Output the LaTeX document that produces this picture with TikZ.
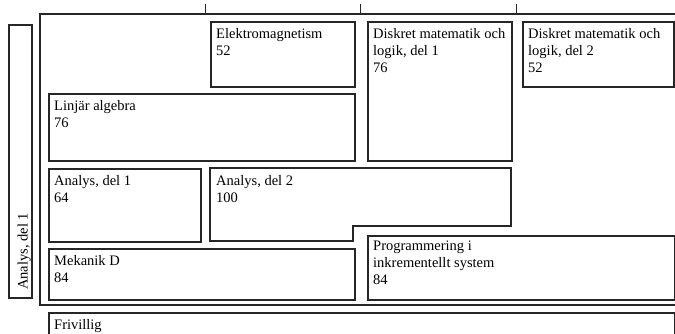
\documentclass[tikz,border=0pt]{standalone}
\usepackage{fontspec}
\setmainfont{Liberation Serif}
\usepackage{xcolor}
\usepackage{tikz}
\usetikzlibrary{positioning,calc}
\newcommand{\coursefont}{\fontsize{14.5}{17}\selectfont}
\tikzset{
  course/.style={rectangle, draw=black!85, line width=1.8pt, anchor=north west,
                 inner sep=0pt},
  ctext/.style={anchor=north west, align=left, inner xsep=6pt, inner ysep=7pt,
                font=\coursefont},
  frame/.style={draw=black!85, line width=2.6pt},
  tick/.style={draw=black!85, line width=0.8pt},
}
\begin{document}
\begin{tikzpicture}[x=1pt, y=-1pt]
  \useasboundingbox (0,0) rectangle (675,334);
  \clip (0,0) rectangle (675,334);
  \draw[frame] (676,14) -- (40,14) -- (40,305) -- (676,305);
  \foreach \x in {205,360,516} {
    \draw[tick] (\x,4) -- (\x,14);
  }
  \node[course, minimum width=23pt, minimum height=273pt] (side) at (8,24) {};
  \node[font=\coursefont, rotate=90, anchor=base west, inner sep=0pt] (sidet) at (27.5,290) {Analys, del 1};
  \node[course, minimum width=144pt, minimum height=65pt] (em) at (210,21) {};
  \node[ctext] (emt) at (em.north west) {Elektromagnetism\\52};
  \node[course, minimum width=144pt, minimum height=139pt] (dm1) at (367,21) {};
  \node[ctext] (dm1t) at (dm1.north west) {Diskret matematik och\\logik, del 1\\76};
  \node[course, minimum width=151pt, minimum height=65pt] (dm2) at (522,21) {};
  \node[ctext] (dm2t) at (dm2.north west) {Diskret matematik och\\logik, del 2\\52};
  \node[course, minimum width=306pt, minimum height=67pt] (la) at (48,93) {};
  \node[ctext] (lat) at (la.north west) {Linjär algebra\\76};
  \node[course, minimum width=152pt, minimum height=73pt] (an1) at (48,168) {};
  \node[ctext] (an1t) at (an1.north west) {Analys, del 1\\64};
  \coordinate (an2) at (210,168);
  \draw[draw=black!85, line width=1.8pt] (an2) -- (511,168) -- (511,226) -- (353,226)
    -- (353,241) -- (210,241) -- cycle;
  \node[ctext] (an2t) at (an2) {Analys, del 2\\100};
  \node[course, minimum width=306pt, minimum height=51pt] (mek) at (48,248) {};
  \node[ctext] (mekt) at (mek.north west) {Mekanik D\\84};
  \node[course, minimum width=307pt, minimum height=64pt] (prog) at (367,235) {};
  \node[ctext, inner ysep=6pt] (progt) at (prog.north west) {Programmering i\\inkrementellt system\\84};
  \node[course, minimum width=626pt, minimum height=40pt] (fri) at (48,312) {};
  \node[ctext] (frit) at (fri.north west) {Frivillig};
\end{tikzpicture}
\end{document}
